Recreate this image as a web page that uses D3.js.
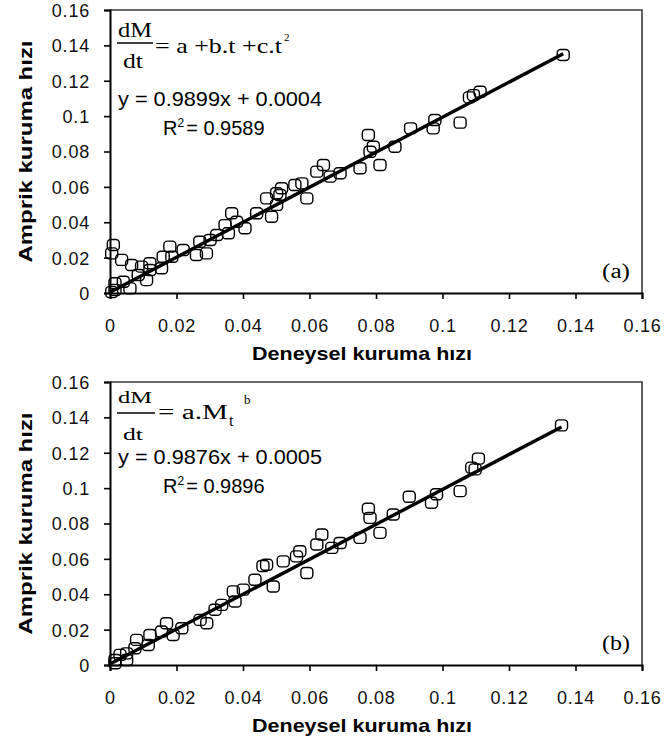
<!DOCTYPE html>
<html>
<head>
<meta charset="utf-8">
<script src="https://cdn.jsdelivr.net/npm/d3@7"></script>
<style>
  body { margin: 0; background: #fff; }
  svg { display: block; }
</style>
</head>
<body>
<div id="chart"></div>
<script>
// Axis ticks
const TICKS = [0, 0.02, 0.04, 0.06, 0.08, 0.1, 0.12, 0.14, 0.16];
const TICK_LABELS = ["0", "0.02", "0.04", "0.06", "0.08", "0.1", "0.12", "0.14", "0.16"];
const X_TITLE = "Deneysel kuruma hızı";
const Y_TITLE = "Amprik kuruma hızı";

// Panel (a): experimental vs empirical drying rate
const expA = [0.1363, 0.1113, 0.1093, 0.1081, 0.1053, 0.0977, 0.0972, 0.0904, 0.0857, 0.0812,
  0.0792, 0.0782, 0.0777, 0.0752, 0.0692, 0.0662, 0.0642, 0.0622, 0.0592, 0.0577,
  0.0556, 0.0516, 0.0511, 0.0501, 0.0501, 0.0486, 0.0471, 0.0441, 0.0406, 0.0381,
  0.0366, 0.0356, 0.0346, 0.0321, 0.0301, 0.0290, 0.0270, 0.0260, 0.0220, 0.0186,
  0.0180, 0.0160, 0.0155, 0.0120, 0.0120, 0.0110, 0.0095, 0.0085, 0.0065, 0.0060,
  0.0040, 0.0035, 0.0015, 0.0015, 0.0010, 0.0005, 0.0005];
const empA = [0.1346, 0.1138, 0.1119, 0.1106, 0.0963, 0.0978, 0.0931, 0.0931, 0.0827, 0.0724,
  0.0827, 0.0799, 0.0893, 0.0705, 0.0677, 0.0658, 0.0724, 0.0686, 0.0535, 0.0620,
  0.0611, 0.0592, 0.0554, 0.0564, 0.0498, 0.0431, 0.0535, 0.0451, 0.0366, 0.0403,
  0.0451, 0.0338, 0.0384, 0.0328, 0.0300, 0.0224, 0.0290, 0.0215, 0.0243, 0.0205,
  0.0262, 0.0205, 0.0140, 0.0168, 0.0130, 0.0073, 0.0149, 0.0102, 0.0158, 0.0026,
  0.0064, 0.0187, 0.0055, 0.0017, 0.0271, 0.0224, 0.0005];

// Panel (b)
const expB = [0.1358, 0.1108, 0.1098, 0.1088, 0.1053, 0.0982, 0.0967, 0.0900, 0.0852, 0.0812,
  0.0782, 0.0777, 0.0752, 0.0692, 0.0667, 0.0637, 0.0622, 0.0592, 0.0571, 0.0561,
  0.0521, 0.0491, 0.0471, 0.0460, 0.0436, 0.0401, 0.0376, 0.0371, 0.0336, 0.0316,
  0.0291, 0.0271, 0.0216, 0.0190, 0.0170, 0.0155, 0.0120, 0.0115, 0.0080, 0.0075,
  0.0050, 0.0050, 0.0030, 0.0015, 0.0015];
const empB = [0.1355, 0.1167, 0.1106, 0.1116, 0.0983, 0.0965, 0.0917, 0.0951, 0.0851, 0.0747,
  0.0832, 0.0883, 0.0719, 0.0690, 0.0662, 0.0738, 0.0681, 0.0520, 0.0643, 0.0614,
  0.0586, 0.0444, 0.0567, 0.0560, 0.0482, 0.0426, 0.0359, 0.0416, 0.0340, 0.0312,
  0.0236, 0.0255, 0.0208, 0.0170, 0.0236, 0.0189, 0.0170, 0.0113, 0.0142, 0.0095,
  0.0066, 0.0028, 0.0057, 0.0028, 0.0010];

// Fitted lines
const fitA = { slope: 0.9899, intercept: 0.0004, eq: "y = 0.9899x + 0.0004", r2: "= 0.9589" };
const fitB = { slope: 0.9876, intercept: 0.0005, eq: "y = 0.9876x + 0.0005", r2: "= 0.9896" };

const W = 665, H = 747;
const left = 110, plotW = 532, plotH = 283;
const sans = "'Liberation Sans', Arial, sans-serif";
const serif = "'Liberation Serif', 'Times New Roman', serif";

const svg = d3.select("#chart").append("svg")
  .attr("width", W)
  .attr("height", H);

function drawPanel(top, xs, ys, fit, tag, drawEquation) {
  const g = svg.append("g").attr("transform", `translate(${left},${top})`);

  const x = d3.scaleLinear().domain([0, 0.16]).range([0, plotW]);
  const y = d3.scaleLinear().domain([0, 0.16]).range([plotH, 0]);

  // frame (top + right)
  g.append("path")
    .attr("d", `M0,0H${plotW}V${plotH}`)
    .attr("fill", "none")
    .attr("stroke", "#3a3a3a")
    .attr("stroke-width", 1.6);

  // x axis
  const xAxis = g.append("g")
    .attr("transform", `translate(0,${plotH})`)
    .call(d3.axisBottom(x).tickValues(TICKS).tickSize(6).tickPadding(16)
      .tickFormat((d, i) => TICK_LABELS[i]));
  // y axis
  const yAxis = g.append("g")
    .call(d3.axisLeft(y).tickValues(TICKS).tickSize(6).tickPadding(14)
      .tickFormat((d, i) => TICK_LABELS[i]));

  [xAxis, yAxis].forEach(a => {
    a.select(".domain").attr("stroke", "#000").attr("stroke-width", 2);
    a.selectAll(".tick line").attr("stroke", "#000").attr("stroke-width", 1.6);
    a.selectAll(".tick text")
      .attr("fill", "#111")
      .style("font-family", sans)
      .style("font-size", "18px")
      .style("letter-spacing", "0.8px");
  });
  xAxis.selectAll(".tick text").attr("dy", "0.95em");
  yAxis.selectAll(".tick text").attr("dy", "0.36em");

  // axis titles
  g.append("text")
    .attr("x", 252)
    .attr("y", plotH + 67)
    .attr("text-anchor", "middle")
    .attr("textLength", 220)
    .attr("lengthAdjust", "spacingAndGlyphs")
    .style("font-family", sans)
    .style("font-weight", "bold")
    .style("font-size", "19px")
    .text(X_TITLE);

  g.append("text")
    .attr("transform", `translate(${-78},${plotH / 2}) rotate(-90)`)
    .attr("text-anchor", "middle")
    .attr("textLength", 222)
    .attr("lengthAdjust", "spacingAndGlyphs")
    .style("font-family", sans)
    .style("font-weight", "bold")
    .style("font-size", "19px")
    .text(Y_TITLE);

  // markers
  g.selectAll(".pt")
    .data(xs.map((v, i) => [v, ys[i]]))
    .enter().append("rect")
    .attr("class", "pt")
    .attr("x", d => x(d[0]) - 6)
    .attr("y", d => y(d[1]) - 5.5)
    .attr("width", 12)
    .attr("height", 11)
    .attr("rx", 3.5)
    .attr("fill", "none")
    .attr("stroke", "#000")
    .attr("stroke-width", 1.4);

  // trend line
  const xMax = d3.max(xs);
  g.append("line")
    .attr("x1", x(0))
    .attr("y1", y(fit.intercept))
    .attr("x2", x(xMax))
    .attr("y2", y(fit.slope * xMax + fit.intercept))
    .attr("stroke", "#000")
    .attr("stroke-width", 3.4);

  // regression text
  g.append("text")
    .attr("x", 8).attr("y", drawEquation.eqY)
    .attr("textLength", 204)
    .attr("lengthAdjust", "spacingAndGlyphs")
    .style("font-family", sans).style("font-size", "20px")
    .text(fit.eq);
  const r = g.append("text")
    .attr("x", 53).attr("y", drawEquation.eqY + 29)
    .style("font-family", sans).style("font-size", "20px");
  r.append("tspan").text("R");
  r.append("tspan").attr("dy", -8).style("font-size", "12px").text("2");
  r.append("tspan").attr("dy", 8).attr("dx", 2).text(fit.r2);

  // panel tag
  g.append("text")
    .attr("x", 492).attr("y", plotH - 15)
    .attr("textLength", 28)
    .attr("lengthAdjust", "spacingAndGlyphs")
    .style("font-family", serif).style("font-size", "20px")
    .text(tag);

  drawEquation.fn(g);
}

function eqA(g) {
  g.append("text").attr("x", 8).attr("y", 27).attr("textLength", 34)
    .attr("lengthAdjust", "spacingAndGlyphs")
    .style("font-family", serif).style("font-size", "22px").text("dM");
  g.append("line").attr("x1", 7).attr("x2", 43).attr("y1", 33).attr("y2", 33)
    .attr("stroke", "#000").attr("stroke-width", 1.5);
  g.append("text").attr("x", 13).attr("y", 58).attr("textLength", 20)
    .attr("lengthAdjust", "spacingAndGlyphs")
    .style("font-family", serif).style("font-size", "22px").text("dt");
  g.append("text").attr("x", 45).attr("y", 43).attr("textLength", 127)
    .attr("lengthAdjust", "spacingAndGlyphs")
    .style("font-family", serif).style("font-size", "21px").text("= a +b.t +c.t");
  g.append("text").attr("x", 174).attr("y", 31)
    .style("font-family", serif).style("font-size", "11px").text("2");
}

function eqB(g) {
  g.append("text").attr("x", 8).attr("y", 21).attr("textLength", 34)
    .attr("lengthAdjust", "spacingAndGlyphs")
    .style("font-family", serif).style("font-size", "17px").text("dM");
  g.append("line").attr("x1", 7).attr("x2", 45).attr("y1", 31).attr("y2", 31)
    .attr("stroke", "#000").attr("stroke-width", 1.5);
  g.append("text").attr("x", 13).attr("y", 58).attr("textLength", 20)
    .attr("lengthAdjust", "spacingAndGlyphs")
    .style("font-family", serif).style("font-size", "17px").text("dt");
  g.append("text").attr("x", 48).attr("y", 37).attr("textLength", 70)
    .attr("lengthAdjust", "spacingAndGlyphs")
    .style("font-family", serif).style("font-size", "20px").text("= a.M");
  g.append("text").attr("x", 119).attr("y", 44)
    .style("font-family", serif).style("font-size", "16px").text("t");
  g.append("text").attr("x", 134).attr("y", 22)
    .style("font-family", serif).style("font-size", "13px").text("b");
}

drawPanel(10, expA, empA, fitA, "(a)", { eqY: 96, fn: eqA });
drawPanel(382, expB, empB, fitB, "(b)", { eqY: 82, fn: eqB });
</script>
</body>
</html>
